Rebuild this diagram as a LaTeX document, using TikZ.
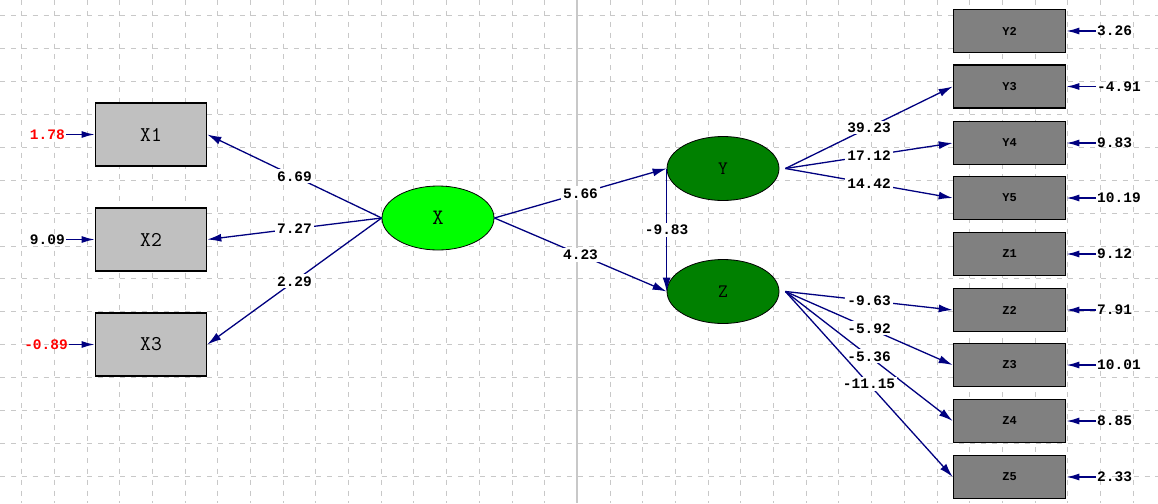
\documentclass[tikz,border=0pt]{standalone}
\usepackage{fontspec}
\newfontfamily\numfont{Liberation Mono}
\usetikzlibrary{arrows.meta,shapes.geometric}
\definecolor{navyc}{RGB}{0,0,128}
\definecolor{gridc}{RGB}{200,200,200}
\definecolor{boxlight}{RGB}{192,192,192}
\definecolor{boxdark}{RGB}{128,128,128}
\definecolor{latlight}{RGB}{0,255,0}
\definecolor{latdark}{RGB}{0,128,0}
\definecolor{errred}{RGB}{255,0,0}
\tikzset{
  gridline/.style={gridc, line width=1pt, dash pattern=on 5pt off 5.9pt},
  obsl/.style={rectangle, draw=black, line width=1.6pt, fill=boxlight, minimum width=111pt, minimum height=63pt, inner sep=0pt, font=\ttfamily\fontsize{21}{21}\selectfont},
  obsr/.style={rectangle, draw=black, line width=1.6pt, fill=boxdark, minimum width=112pt, minimum height=43pt, inner sep=0pt, font=\numfont\bfseries\fontsize{12}{12}\selectfont},
  latent/.style={ellipse, draw=black, line width=0.8pt, minimum width=112pt, minimum height=64pt, inner sep=0pt},
  conn/.style={navyc, line width=1.3pt, -{Latex[length=14pt,width=8pt]}},
  coef/.style={fill=white, inner sep=2pt, text=black, font=\numfont\bfseries\fontsize{14.5}{14.5}\selectfont},
  errarr/.style={navyc, line width=1.5pt, -{Latex[length=13pt,width=7pt]}},
  errlbl/.style={inner sep=1pt, font=\numfont\bfseries\fontsize{14.5}{14.5}\selectfont},
}
\begin{document}
\begin{tikzpicture}[x=1pt,y=-1pt]
\useasboundingbox[fill=white] (0,0) rectangle (1158,503);
% grid
\foreach \k in {0,...,34} \draw[gridline] ({21.7+32.69*\k},0) -- ({21.7+32.69*\k},503);
\foreach \j in {0,...,14} \draw[gridline] (0,{16+32.86*\j}) -- (1158,{16+32.86*\j});
\draw[gridc, line width=2pt] (576.8,0) -- (576.8,503);

% observed left
\node[obsl] (X1) at (151,134.5) {X1};
\node[obsl] (X2) at (151,239.5) {X2};
\node[obsl] (X3) at (151,344.5) {X3};

% latent
\node[latent, fill=latlight, font=\ttfamily\fontsize{22}{22}\selectfont] (X) at (438,218) {X};
\node[latent, fill=latdark, font=\ttfamily\fontsize{19}{19}\selectfont] (Y) at (723,168.5) {Y};
\node[latent, fill=latdark, font=\ttfamily\fontsize{19}{19}\selectfont] (Z) at (723,291.5) {Z};

% observed right
\node[obsr] (Y2) at (1009.5,31) {Y2};
\node[obsr] (Y3) at (1009.5,86.5) {Y3};
\node[obsr] (Y4) at (1009.5,143) {Y4};
\node[obsr] (Y5) at (1009.5,198) {Y5};
\node[obsr] (Z1) at (1009.5,254) {Z1};
\node[obsr] (Z2) at (1009.5,310) {Z2};
\node[obsr] (Z3) at (1009.5,365) {Z3};
\node[obsr] (Z4) at (1009.5,421) {Z4};
\node[obsr] (Z5) at (1009.5,477) {Z5};

% structural paths
\draw[conn] (X.west) -- node[coef] {6.69} (X1.east);
\draw[conn] (X.west) -- node[coef] {7.27} (X2.east);
\draw[conn] (X.west) -- node[coef] {2.29} (X3.east);
\draw[conn] (X.east) -- node[coef] {5.66} (Y.west);
\draw[conn] (X.east) -- node[coef] {4.23} (Z.west);
\draw[conn] (Y.west) -- node[coef] {-9.83} (Z.west);

\draw[conn] ([xshift=6pt]Y.east) -- node[coef] {39.23} (Y3.west);
\draw[conn] ([xshift=6pt]Y.east) -- node[coef] {17.12} (Y4.west);
\draw[conn] ([xshift=6pt]Y.east) -- node[coef] {14.42} (Y5.west);

\draw[conn] ([xshift=6pt]Z.east) -- node[coef] {-9.63} (Z2.west);
\draw[conn] ([xshift=6pt]Z.east) -- node[coef] {-5.92} (Z3.west);
\draw[conn] ([xshift=6pt]Z.east) -- node[coef] {-5.36} (Z4.west);
\draw[conn] ([xshift=6pt]Z.east) -- node[coef] {-11.15} (Z5.west);

% error terms left
\node[errlbl, anchor=east, text=errred] (e1) at (66,134.5) {1.78};
\node[errlbl, anchor=east] (e2) at (66,239.5) {9.09};
\node[errlbl, anchor=east, text=errred] (e3) at (69,344.5) {-0.89};
\draw[errarr] (e1.east) -- (X1.west);
\draw[errarr] (e2.east) -- (X2.west);
\draw[errarr] (e3.east) -- (X3.west);

% error terms right
\node[errlbl, anchor=west] (f2) at (1096,31) {3.26};
\node[errlbl, anchor=west] (f3) at (1096,86.5) {-4.91};
\node[errlbl, anchor=west] (f4) at (1096,143) {9.83};
\node[errlbl, anchor=west] (f5) at (1096,198) {10.19};
\node[errlbl, anchor=west] (g1) at (1096,254) {9.12};
\node[errlbl, anchor=west] (g2) at (1096,310) {7.91};
\node[errlbl, anchor=west] (g3) at (1096,365) {10.01};
\node[errlbl, anchor=west] (g4) at (1096,421) {8.85};
\node[errlbl, anchor=west] (g5) at (1096,477) {2.33};
\foreach \e/\b in {f2/Y2,f3/Y3,f4/Y4,f5/Y5,g1/Z1,g2/Z2,g3/Z3,g4/Z4,g5/Z5}
  \draw[errarr] (\e.west) -- (\b.east);
\end{tikzpicture}
\end{document}
